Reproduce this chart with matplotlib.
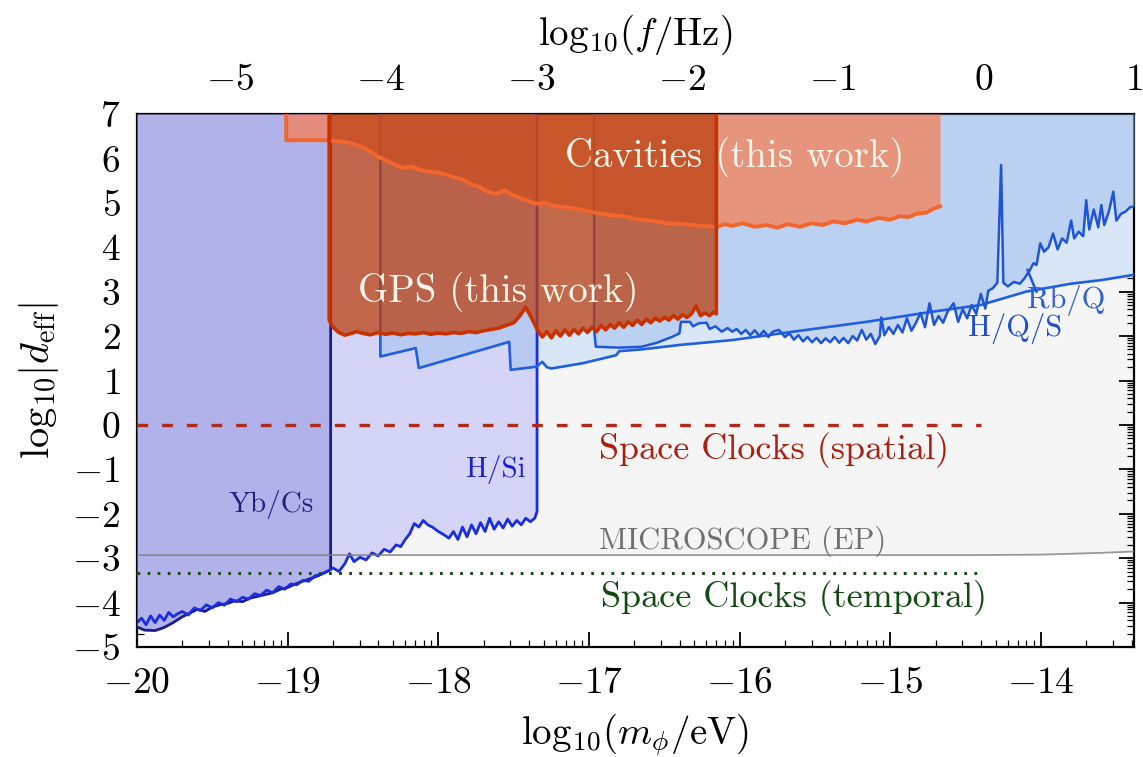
import numpy as np
import matplotlib
matplotlib.use("Agg")
import matplotlib.pyplot as plt

plt.rcParams["font.family"] = "serif"
plt.rcParams["font.serif"] = ["cmr10"]
plt.rcParams["mathtext.fontset"] = "cm"
plt.rcParams["axes.formatter.use_mathtext"] = True

# ==========================================================
# Data (log10 m / eV  vs  log10 |d_eff|)
# ==========================================================

TOP = 7.0
F_SHIFT = 14.383          # log10(f/Hz) = log10(m/eV) + 14.383

# MICROSCOPE (EP) bound
micro_x = [-20.0, -14.4, -14.0, -13.8, -13.6, -13.383]
micro_y = [-2.93, -2.93, -2.92, -2.90, -2.88, -2.85]

# Yb/Cs clock comparison
ybcs_x = [-20.0, -19.95, -19.88, -19.82, -19.76, -19.70, -19.64, -19.60, -19.55,
          -19.50, -19.45, -19.40, -19.35, -19.30, -19.25, -19.20, -19.15, -19.10,
          -19.05, -19.00, -18.95, -18.90, -18.85, -18.80, -18.75, -18.715]
ybcs_y = [-4.55, -4.62, -4.63, -4.56, -4.45, -4.32, -4.22, -4.15, -4.20,
          -4.10, -4.05, -4.02, -3.96, -3.98, -3.90, -3.86, -3.82, -3.78,
          -3.70, -3.66, -3.58, -3.52, -3.46, -3.40, -3.32, -3.26]

# H/Si
hsi_x = [-20.00, -19.97, -19.94, -19.91, -19.88, -19.85, -19.82, -19.79, -19.76, -19.73,
         -19.70, -19.66, -19.62, -19.58, -19.54, -19.50, -19.46, -19.42, -19.38, -19.34,
         -19.30, -19.26, -19.22, -19.18, -19.14, -19.10, -19.06, -19.02, -18.98, -18.94,
         -18.90, -18.86, -18.82, -18.78, -18.74, -18.70, -18.66, -18.62, -18.59, -18.56,
         -18.52, -18.48, -18.44, -18.40, -18.36, -18.32, -18.28, -18.25, -18.22, -18.19,
         -18.16, -18.13, -18.10, -18.07, -18.04, -18.00, -17.96, -17.93, -17.90, -17.87,
         -17.84, -17.81, -17.78, -17.75, -17.72, -17.69, -17.66, -17.63, -17.60, -17.57,
         -17.54, -17.51, -17.48, -17.45, -17.42, -17.39, -17.36, -17.345]
hsi_y = [-4.45, -4.35, -4.50, -4.30, -4.45, -4.28, -4.40, -4.22, -4.32, -4.25,
         -4.20, -4.28, -4.12, -4.18, -4.05, -4.12, -4.00, -4.06, -3.92, -3.98,
         -3.88, -3.92, -3.80, -3.84, -3.72, -3.78, -3.64, -3.70, -3.58, -3.60,
         -3.50, -3.52, -3.40, -3.36, -3.30, -3.22, -3.30, -3.12, -2.90, -3.08,
         -2.98, -3.04, -2.88, -2.95, -2.80, -2.86, -2.70, -2.74, -2.58, -2.45,
         -2.22, -2.30, -2.15, -2.25, -2.30, -2.40, -2.48, -2.55, -2.40, -2.58,
         -2.30, -2.52, -2.25, -2.45, -2.20, -2.40, -2.10, -2.35, -2.18, -2.32,
         -2.12, -2.28, -2.15, -2.25, -2.10, -2.18, -2.10, -1.95]

# H/Q/S : sawtooth part and smooth continuation
hqs_step_x = [-18.385, -18.15, -18.13, -17.53, -17.52, -17.35]
hqs_step_y = [1.54, 1.73, 1.28, 1.87, 1.24, 1.31]
hqs_x = [-17.35, -17.31, -17.28, -17.25, -17.04, -16.82, -16.80, -16.65, -16.40,
         -16.05, -15.60, -15.16, -14.72, -14.40, -14.10, -13.80, -13.60, -13.383]
hqs_y = [1.31, 1.42, 1.30, 1.27, 1.39, 1.57, 1.66, 1.70, 1.80,
         1.91, 2.12, 2.32, 2.55, 2.70, 3.00, 3.18, 3.26, 3.38]

# Rb/Q
rbq_x = [-16.966, -16.955, -16.80, -16.65, -16.55, -16.45, -16.40, -16.39, -16.33, -16.31,
         -16.27, -16.22, -16.20, -16.16, -16.12, -16.08, -16.05, -16.02, -15.99, -15.96,
         -15.93, -15.90, -15.87, -15.84, -15.81, -15.78, -15.74, -15.70, -15.67, -15.64,
         -15.61, -15.58, -15.55, -15.52, -15.49, -15.46, -15.43, -15.40, -15.37, -15.34,
         -15.31, -15.28, -15.25, -15.22, -15.19, -15.16, -15.13, -15.10, -15.07, -15.06,
         -15.04, -15.01, -14.98, -14.95, -14.92, -14.89, -14.86, -14.83, -14.80, -14.77,
         -14.74, -14.71, -14.68, -14.65, -14.62, -14.58, -14.55, -14.52, -14.49, -14.46,
         -14.43, -14.40, -14.37, -14.35, -14.32, -14.29, -14.265, -14.25, -14.22, -14.18,
         -14.14, -14.11, -14.08, -14.05, -14.03, -14.005, -13.98, -13.95, -13.92, -13.89,
         -13.86, -13.83, -13.80, -13.78, -13.75, -13.72, -13.70, -13.68, -13.65, -13.62,
         -13.60, -13.58, -13.55, -13.52, -13.50, -13.47, -13.44, -13.41, -13.383]
rbq_y = [2.14, 1.76, 1.74, 1.76, 1.85, 1.98, 2.06, 2.32, 2.32, 2.22,
         2.29, 2.30, 2.16, 2.22, 2.10, 2.18, 2.10, 2.16, 2.05, 2.14,
         2.02, 2.13, 2.00, 2.12, 1.98, 2.10, 2.14, 1.98, 2.06, 1.92,
         2.02, 1.88, 1.98, 1.86, 1.96, 1.84, 1.95, 1.86, 1.98, 1.85,
         1.96, 1.84, 2.00, 1.90, 2.14, 1.92, 2.05, 1.82, 2.00, 2.42,
         2.02, 2.20, 2.05, 2.25, 2.08, 2.40, 2.12, 2.30, 2.52, 2.20,
         2.74, 2.25, 2.45, 2.30, 2.55, 2.74, 2.32, 2.60, 2.40, 2.70,
         2.50, 2.95, 2.62, 3.02, 3.08, 3.20, 5.85, 3.20, 3.12, 3.22,
         3.18, 3.30, 3.45, 3.64, 3.60, 4.09, 3.90, 4.00, 4.31, 3.95,
         4.20, 4.10, 4.60, 4.20, 4.35, 4.25, 5.06, 4.40, 4.85, 4.45,
         4.95, 4.50, 4.80, 5.25, 4.60, 4.75, 4.80, 4.90, 4.92]
rbq_link_x = [-14.09, -14.03]
rbq_link_y = [3.49, 3.00]

# Cavities (this work)
cav_x = [-19.01, -18.73, -18.60, -18.50, -18.40, -18.30, -18.24, -18.18, -18.12, -18.06,
         -18.00, -17.95, -17.90, -17.84, -17.78, -17.73, -17.68, -17.62, -17.56, -17.51,
         -17.45, -17.40, -17.35, -17.29, -17.22, -17.15, -17.07, -17.00, -16.92, -16.85,
         -16.77, -16.70, -16.62, -16.55, -16.48, -16.40, -16.32, -16.25, -16.15, -16.10,
         -16.05, -15.98, -15.90, -15.82, -15.75, -15.68, -15.60, -15.52, -15.45, -15.38,
         -15.30, -15.22, -15.16, -15.08, -15.00, -14.94, -14.88, -14.82, -14.76, -14.72,
         -14.67]
cav_y = [6.41, 6.41, 6.36, 6.25, 6.04, 5.88, 5.78, 5.82, 5.74, 5.70,
         5.68, 5.64, 5.58, 5.52, 5.42, 5.36, 5.26, 5.20, 5.28, 5.18,
         5.10, 5.04, 4.98, 5.00, 4.92, 4.90, 4.86, 4.80, 4.76, 4.72,
         4.70, 4.64, 4.61, 4.58, 4.54, 4.53, 4.50, 4.48, 4.46, 4.52,
         4.48, 4.54, 4.46, 4.50, 4.44, 4.52, 4.46, 4.54, 4.50, 4.58,
         4.54, 4.62, 4.58, 4.66, 4.62, 4.70, 4.68, 4.76, 4.78, 4.86,
         4.92]

# GPS (this work)
gps_x = [-18.725, -18.70, -18.66, -18.62, -18.58, -18.54, -18.50, -18.45, -18.40, -18.35,
         -18.30, -18.25, -18.20, -18.15, -18.10, -18.05, -18.00, -17.95, -17.90, -17.85,
         -17.80, -17.75, -17.70, -17.65, -17.60, -17.55, -17.50, -17.46, -17.42, -17.38,
         -17.34, -17.31, -17.28, -17.25, -17.22, -17.19, -17.16, -17.13, -17.10, -17.07,
         -17.04, -17.01, -16.98, -16.95, -16.92, -16.89, -16.86, -16.83, -16.80, -16.77,
         -16.74, -16.71, -16.68, -16.65, -16.62, -16.59, -16.56, -16.53, -16.50, -16.47,
         -16.44, -16.41, -16.38, -16.35, -16.32, -16.29, -16.26, -16.23, -16.20, -16.17,
         -16.155]
gps_y = [2.36, 2.20, 2.08, 2.02, 2.06, 2.10, 2.06, 2.03, 2.08, 2.04,
         2.07, 2.03, 2.06, 2.05, 2.08, 2.04, 2.07, 2.05, 2.08, 2.06,
         2.10, 2.08, 2.12, 2.15, 2.18, 2.24, 2.30, 2.45, 2.65, 2.40,
         2.12, 1.98, 2.10, 1.96, 2.12, 2.00, 2.14, 2.02, 2.15, 2.05,
         2.18, 2.08, 2.20, 2.10, 2.24, 2.14, 2.26, 2.18, 2.30, 2.20,
         2.32, 2.24, 2.36, 2.26, 2.38, 2.30, 2.40, 2.34, 2.42, 2.36,
         2.46, 2.38, 2.48, 2.42, 2.50, 2.68, 2.46, 2.52, 2.46, 2.54,
         2.50]

# Space clock projections
clock_spatial_y = 0.0
clock_temporal_y = -3.34
clock_x_end = -14.40

# ==========================================================
# Figure
# ==========================================================

fig = plt.figure(figsize=(11.43, 7.57), dpi=100)
ax = fig.add_axes([0.1199, 0.1453, 0.8722, 0.7041])

# background regions
ax.fill_between(micro_x, micro_y, TOP, color="#f5f5f5", lw=0, zorder=1)
ax.fill_between(hqs_x, hqs_y, TOP, color="#d9e6f8", lw=0, zorder=2)
ax.fill_between(hsi_x, hsi_y, TOP, color="#d4d4f7", lw=0, zorder=2)
ax.fill_between(ybcs_x, ybcs_y, TOP, color="#b2b2ea", lw=0, zorder=3)
ax.fill_between(hqs_step_x, hqs_step_y, TOP, color="#a6c4ee", alpha=0.6, lw=0, zorder=4)
ax.fill_between(rbq_x, rbq_y, TOP, color="#a6c4ee", alpha=0.6, lw=0, zorder=4)

# bound curves (with vertical region edges)
ax.plot(np.append(ybcs_x, ybcs_x[-1]), np.append(ybcs_y, TOP),
        color="#1c1c8c", lw=2.0, zorder=5)
ax.plot(np.append(hsi_x, hsi_x[-1]), np.append(hsi_y, TOP),
        color="#1a2ee0", lw=2.0, zorder=5)
ax.plot(np.append(hqs_step_x[0], hqs_step_x), np.append(TOP, hqs_step_y),
        color="#1f5fe0", lw=1.9, zorder=5)
ax.plot(hqs_x, hqs_y, color="#1f5fe0", lw=1.9, zorder=5)
ax.plot(np.append(rbq_x[0], rbq_x), np.append(TOP, rbq_y),
        color="#1f55d8", lw=1.8, zorder=5)
ax.plot(rbq_link_x, rbq_link_y, color="#1f55d8", lw=1.8, zorder=5)

ax.plot(micro_x, micro_y, color="#808080", lw=1.3, alpha=0.8, zorder=5)
ax.plot([-20, clock_x_end], [clock_spatial_y] * 2, color="#b02a1a",
        lw=2.4, dashes=(3.2, 4.2), zorder=5)
ax.plot([-20, clock_x_end], [clock_temporal_y] * 2, color="#1a4a1a",
        lw=2.2, dashes=(0.9, 2.4), zorder=5)

# this work
ax.fill_between(cav_x, cav_y, TOP, color="#fb7b4c", alpha=0.7, lw=0, zorder=6)
ax.fill_between(gps_x, gps_y, TOP, color="#bb4011", alpha=0.75, lw=0, zorder=7)
ax.plot(np.append(cav_x[0], cav_x), np.append(TOP, cav_y),
        color="#f2662e", lw=2.8, zorder=8)
ax.plot(np.concatenate([[gps_x[0]], gps_x, [gps_x[-1]]]),
        np.concatenate([[TOP], gps_y, [TOP]]),
        color="#c83200", lw=2.6, zorder=8)

# labels
txt = dict(family="cmr10", zorder=10, ha="center", va="center")
ax.text(-16.03, 6.03, "Cavities (this work)", fontsize=28, color="#fff4e8", **txt)
ax.text(-17.60, 3.00, "GPS (this work)", fontsize=28, color="#fff4e8", **txt)
ax.text(-15.77, -0.56, "Space Clocks (spatial)", fontsize=26, color="#a82010", **txt)
ax.text(-15.98, -2.61, "MICROSCOPE (EP)", fontsize=22, color="#707070", **txt)
ax.text(-15.64, -3.90, "Space Clocks (temporal)", fontsize=26, color="#124a12", **txt)
ax.text(-19.11, -1.80, "Yb/Cs", fontsize=21, color="#202080", **txt)
ax.text(-17.62, -1.01, "H/Si", fontsize=21, color="#2020d0", **txt)
ax.text(-13.83, 2.81, "Rb/Q", fontsize=22, color="#2a60d8", **txt)
ax.text(-14.17, 2.18, "H/Q/S", fontsize=22, color="#2050d0", **txt)

# ==========================================================
# Axes, log-style minor ticks
# ==========================================================

ax.set_xlim(-20, -13.383)
ax.set_ylim(-5, 7)

subs = np.log10(np.arange(2, 10))
ax.set_xticks(np.arange(-20, -13))
ax.set_xticks([n + s for n in range(-20, -13) for s in subs if n + s < -13.383], minor=True)
ax.set_yticks(np.arange(-5, 8))
ax.set_yticks([n + s for n in range(-5, 7) for s in subs], minor=True)

ax.tick_params(which="both", direction="in", top=False, right=True, labelsize=27)
ax.tick_params(which="major", length=11, width=1.3)
ax.tick_params(which="minor", length=5, width=0.9)
ax.tick_params(axis="x", pad=14)
ax.tick_params(axis="y", pad=12)
for sp in ax.spines.values():
    sp.set_linewidth(1.6)

sec = ax.secondary_xaxis("top", functions=(lambda m: m + F_SHIFT, lambda f: f - F_SHIFT))
sec.set_xticks(np.arange(-5, 2))
sec.set_xticks([n + s for n in range(-6, 1) for s in subs if n + s > -20 + F_SHIFT], minor=True)
sec.tick_params(which="both", direction="in", labelsize=27, pad=12)
sec.tick_params(which="major", length=11, width=1.3)
sec.tick_params(which="minor", length=5, width=0.9)

ax.set_xlabel(r"$\mathrm{log}_{10}(m_\phi/\mathrm{eV})$", fontsize=28, labelpad=8)
ax.set_ylabel(r"$\mathrm{log}_{10}|d_{\mathrm{eff}}|$", fontsize=29, labelpad=8)
sec.set_xlabel(r"$\mathrm{log}_{10}(f/\mathrm{Hz})$", fontsize=28, labelpad=14)

fig.savefig("out.png", dpi=100)
